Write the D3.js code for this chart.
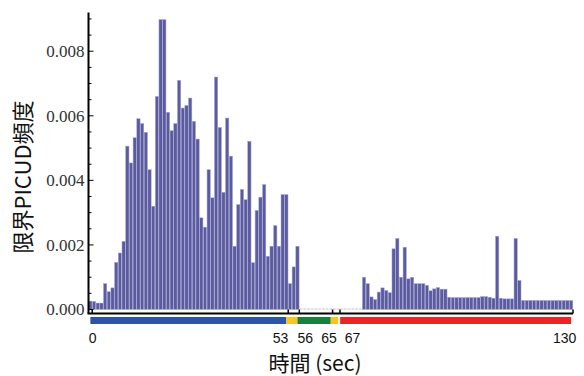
<!DOCTYPE html>
<html><head><meta charset="utf-8">
<script src="https://cdn.jsdelivr.net/npm/d3@7"></script>
<style>html,body{margin:0;padding:0;background:#fff;}svg{display:block;}</style>
</head><body>
<svg id="c" width="584" height="376"></svg>
<script>
// data: critical PICUD frequency per second (0..130)
const values = [
0.00026,0.00025,0.0002,0.0002,0.0008,0.00055,0.00067,0.00146,0.00175,0.00211,
0.00506,0.00454,0.00532,0.00591,0.00576,0.00549,0.00433,0.0032,0.0066,0.00898,
0.00898,0.00611,0.00554,0.00576,0.0071,0.00624,0.00632,0.00655,0.00583,0.00528,
0.00284,0.00255,0.00433,0.00346,0.0072,0.00564,0.00363,0.00593,0.00475,0.00196,
0.00325,0.00372,0.0034,0.00521,0.00145,0.00307,0.00348,0.00387,0.00165,0.00196,
0.0026,0.00196,0.00356,0.00356,0.0008,0.00132,0.00196,0,0,0,
0,0,0,0,0,0,0,0,0,0,
0,0,0,0,0.001,0.0008,0.00039,0.00031,0.00054,0.00067,
0.00059,0.00052,0.00188,0.0022,0.001,0.00193,0.00095,0.001,0.0008,0.0008,
0.0008,0.00075,0.00058,0.00064,0.00068,0.00063,0.00063,0.00038,0.00037,0.00037,
0.00037,0.00037,0.00037,0.00037,0.00037,0.00037,0.0004,0.0004,0.00038,0.00035,
0.00227,0.00035,0.00033,0.00033,0.00033,0.0022,0.0009,0.00028,0.00028,0.00028,
0.00028,0.00028,0.00028,0.00028,0.00028,0.00028,0.00028,0.00028,0.00028,0.00028,
0.00028];
const seconds = values.map((v,i)=>i);
const xTicks = [0,53,56,65,67,130];
const yTicks = [0,0.002,0.004,0.006,0.008];
const phaseStart = [0,53,56,65,67];
const phaseEnd   = [53,56,65,67,130];
const phaseColor = ["#2d55a5","#f6c61c","#17803d","#f6c61c","#eb2428"];
const tickLabelShift = [0.5,-7.7,6,-3.6,12.5,-8.3];

const svg = d3.select("#c");
const x = d3.scaleLinear().domain([0,131]).range([88.5,573]);
const y = d3.scaleLinear().domain([0,0.0092]).range([309.5,12.5]);
const pitch = x(1)-x(0);

// bars
svg.append("g").selectAll("rect").data(seconds.filter(i=>values[i]>0)).join("rect")
  .attr("x",i=>x(i)+0.2).attr("width",pitch-0.4)
  .attr("y",i=>y(values[i])).attr("height",i=>y(0)-y(values[i]))
  .attr("fill","#5b5ba1").attr("stroke","#a9a9cf").attr("stroke-width",0.5);
// zero bars as faint lines
svg.append("g").selectAll("line").data(seconds.filter(i=>values[i]===0)).join("line")
  .attr("x1",i=>x(i)+0.4).attr("x2",i=>x(i+1)-0.4)
  .attr("y1",y(0)-0.5).attr("y2",y(0)-0.5)
  .attr("stroke","#c8c8d8").attr("stroke-width",1);

// y axis
const yAxis = svg.append("g").attr("transform",`translate(${x(0)},0)`);
yAxis.append("line").attr("x1",0).attr("x2",0).attr("y1",y.range()[1]).attr("y2",313.5)
  .attr("stroke","#000").attr("stroke-width",2);
const minor = d3.range(0,0.00921,0.0005);
yAxis.selectAll(".mn").data(minor).join("line")
  .attr("x1",0).attr("x2",d=> (Math.round(d*10000)%20===0)?5:3)
  .attr("y1",d=>y(d)).attr("y2",d=>y(d)).attr("stroke","#000").attr("stroke-width",1);
yAxis.selectAll("text").data(yTicks).join("text")
  .attr("x",-4).attr("y",d=>y(d)).attr("dy","0.35em").attr("text-anchor","end")
  .attr("font-family","'Liberation Serif','Times New Roman',serif").attr("font-size",17)
  .attr("fill","#333").text(d=>d3.format(".3f")(d));

// x axis line
svg.append("line").attr("x1",x(0)-1).attr("x2",x(131)).attr("y1",313.5).attr("y2",313.5)
  .attr("stroke","#000").attr("stroke-width",2);
svg.append("g").selectAll("line").data(xTicks).join("line")
  .attr("x1",d=>x(d+1)).attr("x2",d=>x(d+1)).attr("y1",313.5).attr("y2",309.5)
  .attr("stroke","#000").attr("stroke-width",1.5);

// phase color bar
svg.append("g").selectAll("rect").data(phaseStart).join("rect")
  .attr("x",(d,i)=>x(d+0.5)+(i===4?2:0)).attr("width",(d,i)=>x(phaseEnd[i]+0.5)-x(d+0.5)-(i===4?2:0))
  .attr("y",317).attr("height",7).attr("fill",(d,i)=>phaseColor[i]);

// x tick labels
svg.append("g").selectAll("text").data(xTicks).join("text")
  .attr("x",(d,i)=> x(d+1)+tickLabelShift[i]).attr("y",343).attr("text-anchor","middle")
  .attr("font-family","'Liberation Sans',Arial,sans-serif").attr("font-size",14)
  .attr("fill","#111").text(d=>d);

// axis titles
svg.append("text").attr("x",315).attr("y",371).attr("text-anchor","middle")
  .attr("font-family","'Noto Sans CJK JP','Liberation Sans',sans-serif").attr("font-size",21)
  .attr("fill","#111").text("時間 (sec)");
svg.append("text").attr("transform","translate(31,177) rotate(-90)").attr("text-anchor","middle")
  .attr("font-family","'Noto Sans CJK JP','Liberation Sans',sans-serif").attr("font-size",22)
  .attr("fill","#111").text("限界PICUD頻度");
</script>
</body></html>
